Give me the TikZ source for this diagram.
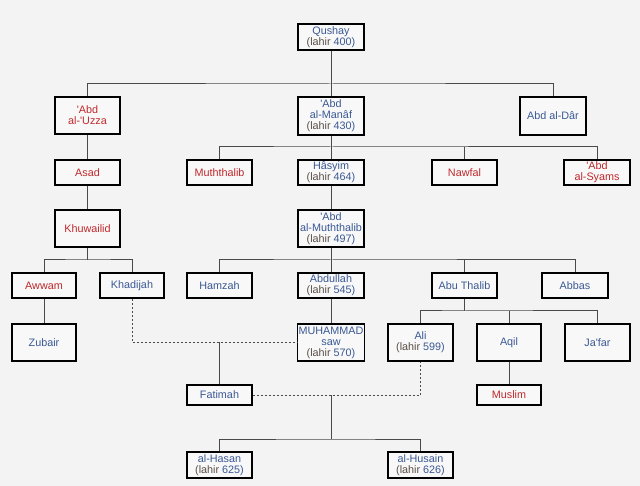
\documentclass[tikz,border=0pt]{standalone}
\usepackage{fontspec}
\setmainfont{Liberation Sans}
\definecolor{bgc}{HTML}{F3F3F3}
\definecolor{boxc}{HTML}{F8F8F8}
\definecolor{nb}{HTML}{3A5894}
\definecolor{nr}{HTML}{C0282C}
\definecolor{lc}{HTML}{5A4E48}
\definecolor{linec}{HTML}{4A4A4A}
\newcommand\lhr[1]{\textcolor{lc}{(lahir} #1)}
\newcommand\apo{\textquotesingle}
\begin{document}
\begin{tikzpicture}[x=1pt,y=-1pt,
  box/.style={draw=black, line width=1.6pt, fill=boxc, inner sep=1pt, align=center,
    text=nb, font=\fontsize{10.8}{11}\selectfont, minimum width=64.5pt, minimum height=25.5pt},
  red/.style={text=nr},
  mid/.style={minimum width=66.5pt},
  tall/.style={minimum height=37.5pt},
  med/.style={minimum height=26.5pt},
  short/.style={minimum height=20.5pt},
  link/.style={draw=linec, line width=1pt},
  mar/.style={draw=linec, line width=1pt, dash pattern=on 2pt off 2pt}]
\fill[bgc] (0,0) rectangle (640,486);
\useasboundingbox (0,0) rectangle (640,486);
% level 0
\node[box,mid,med] (qushay) at (331,37) {Qushay\\\lhr{400}};
% level 1
\node[box,red,tall] (uzza) at (87.5,115.5) {\apo Abd\\al-\apo Uzza};
\node[box,mid,tall] (manaf) at (331,116) {\apo Abd\\al-Manâf\\\lhr{430}};
\node[box,tall,minimum width=65.5pt] (dar) at (553,116) {Abd al-Dâr};
% level 2
\node[box,red] (asad) at (87.5,172.5) {Asad};
\node[box,red] (muththalib) at (219.5,172.5) {Muththalib};
\node[box,mid] (hasyim) at (331,172.5) {Hâsyim\\\lhr{464}};
\node[box,red] (nawfal) at (464.5,172.5) {Nawfal};
\node[box,red,minimum width=65.5pt] (syams) at (597,172.5) {\apo Abd\\al-Syams};
% level 3
\node[box,red,tall] (khuwailid) at (87.5,228.5) {Khuwailid};
\node[box,mid,tall] (abdmuth) at (331,228.5) {\apo Abd\\al-Muththalib\\\lhr{497}};
% level 4
\node[box,red,minimum width=63.5pt] (awwam) at (44,285.5) {Awwam};
\node[box,minimum width=63.5pt] (khadijah) at (132,285.5) {Khadijah};
\node[box] (hamzah) at (219.5,285.5) {Hamzah};
\node[box,mid] (abdullah) at (331,285.5) {Abdullah\\\lhr{545}};
\node[box] (abuthalib) at (464.5,285.5) {Abu Thalib};
\node[box,minimum width=65.5pt] (abbas) at (575,285.5) {Abbas};
% level 5
\node[box,tall,minimum width=63.5pt] (zubair) at (44,342.5) {Zubair};
\node[box,mid,tall] (muhammad) at (331,342.5) {MUHAMMAD\\saw\\\lhr{570}};
\node[box,tall] (ali) at (420.5,342.5) {Ali\\\lhr{599}};
\node[box,tall,minimum width=63.5pt] (aqil) at (509,342.5) {Aqil};
\node[box,tall] (jafar) at (597.5,342.5) {Ja\apo far};
% level 6
\node[box,short] (fatimah) at (219.5,395) {Fatimah};
\node[box,red,short] (muslim) at (509,395) {Muslim};
% level 7
\node[box,med] (hasan) at (219.5,465) {al-Hasan\\\lhr{625}};
\node[box,med] (husain) at (420.5,465) {al-Husain\\\lhr{626}};
% bus coordinates
\coordinate (b1) at (331,84);
\coordinate (b2) at (331,147);
\coordinate (b3) at (87.5,260);
\coordinate (b4) at (331,260);
\coordinate (b5) at (464.5,311);
\coordinate (m2) at (331,395);
\coordinate (b6) at (331,439);
% connectors
\draw[link] (qushay.south) -- (manaf.north);
\draw[link] (uzza.north) |- (b1) -| (dar.north);
\draw[link] (manaf.south) -- (hasyim.north);
\draw[link] (muththalib.north) |- (b2) -| (syams.north);
\draw[link] (nawfal.north) -- (nawfal.north |- b2);
\draw[link] (uzza.south) -- (asad.north);
\draw[link] (asad.south) -- (khuwailid.north);
\draw[link] (hasyim.south) -- (abdmuth.north);
\draw[link] (khuwailid.south) -- (b3);
\draw[link] (awwam.north) |- (b3) -| (khadijah.north);
\draw[link] (awwam.south) -- (zubair.north);
\draw[link] (abdmuth.south) -- (abdullah.north);
\draw[link] (hamzah.north) |- (b4) -| (abbas.north);
\draw[link] (abuthalib.north) -- (abuthalib.north |- b4);
\draw[link] (abdullah.south) -- (muhammad.north);
\draw[link] (abuthalib.south) -- (b5);
\draw[link] (ali.north) |- (b5) -| (jafar.north);
\draw[link] (aqil.north) -- (aqil.north |- b5);
\draw[link] (aqil.south) -- (muslim.north);
\draw[mar] (khadijah.south) |- (muhammad.west);
\draw[link] (fatimah.north) -- (fatimah.north |- muhammad.west);
\draw[mar] (fatimah.east) -| (ali.south);
\draw[link] (m2) -- (b6);
\draw[link] (hasan.north) |- (b6) -| (husain.north);
\end{tikzpicture}
\end{document}
